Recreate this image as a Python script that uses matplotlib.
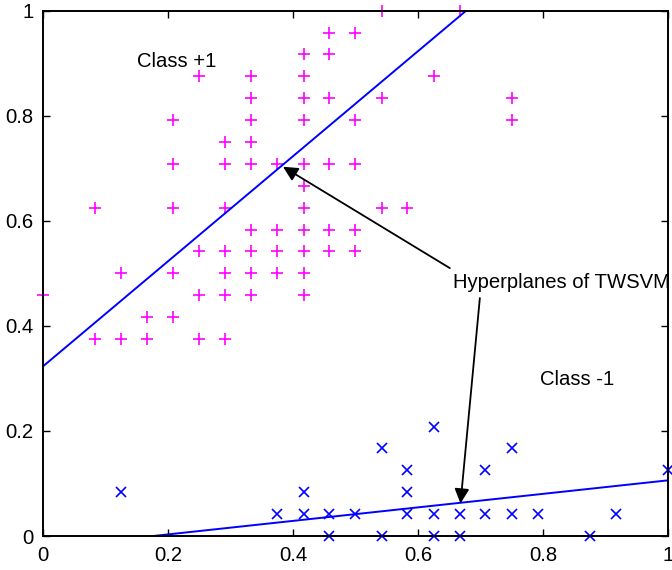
import matplotlib
import matplotlib.pyplot as plt

matplotlib.use("Agg")

plt.rcParams["font.family"] = ["Liberation Sans", "DejaVu Sans"]

# class +1 samples
pos_x = [0.000,
         0.083, 0.083,
         0.125, 0.125,
         0.167, 0.167,
         0.208, 0.208, 0.208, 0.208, 0.208,
         0.250, 0.250, 0.250, 0.250,
         0.292, 0.292, 0.292, 0.292, 0.292, 0.292, 0.292,
         0.333, 0.333, 0.333, 0.333, 0.333, 0.333, 0.333, 0.333, 0.333,
         0.375, 0.375, 0.375, 0.375,
         0.417, 0.417, 0.417, 0.417, 0.417, 0.417, 0.417, 0.417, 0.417, 0.417, 0.417,
         0.458, 0.458, 0.458, 0.458, 0.458, 0.458,
         0.500, 0.500, 0.500, 0.500, 0.500,
         0.542, 0.542, 0.542,
         0.583,
         0.625,
         0.667,
         0.750, 0.750]
pos_y = [0.458,
         0.625, 0.375,
         0.500, 0.375,
         0.417, 0.375,
         0.792, 0.708, 0.625, 0.500, 0.417,
         0.875, 0.542, 0.458, 0.375,
         0.750, 0.708, 0.625, 0.542, 0.500, 0.458, 0.375,
         0.875, 0.833, 0.792, 0.750, 0.708, 0.583, 0.542, 0.500, 0.458,
         0.708, 0.583, 0.542, 0.500,
         0.917, 0.875, 0.833, 0.792, 0.708, 0.667, 0.625, 0.583, 0.542, 0.500, 0.458,
         0.958, 0.917, 0.833, 0.708, 0.583, 0.542,
         0.958, 0.792, 0.708, 0.583, 0.542,
         1.000, 0.833, 0.625,
         0.625,
         0.875,
         1.000,
         0.833, 0.792]

# class -1 samples
neg_x = [0.125, 0.375, 0.417, 0.417, 0.458, 0.458, 0.500, 0.542, 0.542,
         0.583, 0.583, 0.583, 0.625, 0.625, 0.625, 0.667, 0.667, 0.708,
         0.708, 0.750, 0.750, 0.792, 0.875, 0.917, 1.000]
neg_y = [0.083, 0.042, 0.083, 0.042, 0.042, 0.000, 0.042, 0.167, 0.000,
         0.125, 0.083, 0.042, 0.208, 0.042, 0.000, 0.042, 0.000, 0.125,
         0.042, 0.167, 0.042, 0.042, 0.000, 0.042, 0.125]

# hyperplane end points
plane1_x = [0.0, 0.677]
plane1_y = [0.323, 1.0]
plane2_x = [0.176, 1.0]
plane2_y = [0.0, 0.106]

ticks = [0, 0.2, 0.4, 0.6, 0.8, 1]
tick_labels = ["0", "0.2", "0.4", "0.6", "0.8", "1"]

FS = 14.6


def main() -> None:
    fig = plt.figure(figsize=(6.72, 5.70), dpi=100)
    ax = fig.add_axes([0.064, 0.0596, 0.930, 0.9216])

    ax.plot(pos_x, pos_y, "+", color="#ff00ff", markersize=9, markeredgewidth=1.2, clip_on=False)
    ax.plot(neg_x, neg_y, "x", color="#0000ff", markersize=6.5, markeredgewidth=1.2, clip_on=False)
    ax.plot(plane1_x, plane1_y, color="#0000ff", lw=1.4)
    ax.plot(plane2_x, plane2_y, color="#0000ff", lw=1.4)

    ax.text(0.15, 0.904, "Class +1", fontsize=FS, va="center")
    ax.text(0.795, 0.298, "Class -1", fontsize=FS, va="center")
    ax.text(0.656, 0.482, "Hyperplanes of TWSVM", fontsize=FS, va="center", clip_on=False)

    arrow = dict(arrowstyle="-|>", color="k", lw=1.3, mutation_scale=22, shrinkA=0, shrinkB=0)
    ax.annotate("", xy=(0.384, 0.703), xytext=(0.651, 0.51), arrowprops=arrow)
    ax.annotate("", xy=(0.668, 0.062), xytext=(0.699, 0.453), arrowprops=arrow)

    ax.set_xlim(0, 1)
    ax.set_ylim(0, 1)
    ax.set_xticks(ticks)
    ax.set_xticklabels(tick_labels)
    ax.set_yticks(ticks)
    ax.set_yticklabels(tick_labels)
    ax.tick_params(direction="in", top=True, right=True, length=5, width=1, labelsize=FS, pad=7)
    for s in ax.spines.values():
        s.set_linewidth(1.4)

    fig.savefig("out.png", dpi=100)


if __name__ == "__main__":
    main()
